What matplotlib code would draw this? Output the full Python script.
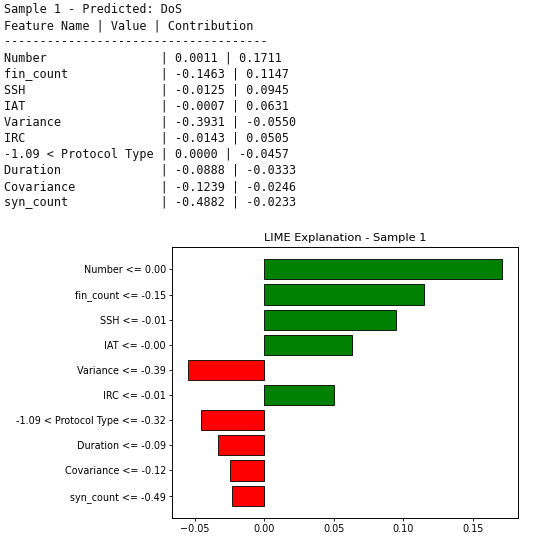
import numpy as np
import matplotlib.pyplot as plt

features = ["Number", "fin_count", "SSH", "IAT", "Variance", "IRC",
            "-1.09 < Protocol Type", "Duration", "Covariance", "syn_count"]
values = [0.0011, -0.1463, -0.0125, -0.0007, -0.3931, -0.0143,
          0.0000, -0.0888, -0.1239, -0.4882]
contributions = [0.1711, 0.1147, 0.0945, 0.0631, -0.0550, 0.0505,
                 -0.0457, -0.0333, -0.0246, -0.0233]
bar_labels = ["Number <= 0.00", "fin_count <= -0.15", "SSH <= -0.01",
              "IAT <= -0.00", "Variance <= -0.39", "IRC <= -0.01",
              "-1.09 < Protocol Type <= -0.32", "Duration <= -0.09",
              "Covariance <= -0.12", "syn_count <= -0.49"]

fig = plt.figure(figsize=(5.5, 5.38), dpi=100)

# ================ Text table =================== #
lines = ["Sample 1 - Predicted: DoS",
         "Feature Name | Value | Contribution",
         "-" * 37]
for name, v, c in zip(features, values, contributions):
    lines.append(f"{name:<22}| {v:.4f} | {c:.4f}")

y0 = 1 - 9.5 / 538
step = 16.1 / 538
for i, line in enumerate(lines):
    fig.text(4 / 550, y0 - i * step, line, family="DejaVu Sans Mono",
             fontsize=8.5, va="center", ha="left", color="#111111")

# ================ Bar chart =================== #
ax = fig.add_axes([172 / 550, 20 / 538, 346 / 550, 271 / 538])
pos = np.arange(len(bar_labels))[::-1]
colors = ["green" if c > 0 else "red" for c in contributions]
ax.barh(pos, contributions, color=colors, edgecolor="black", linewidth=0.6)
ax.set_yticks(pos)
ax.set_yticklabels(bar_labels)
ax.set_xticks([-0.05, 0.00, 0.05, 0.10, 0.15])
ax.tick_params(labelsize=6.95, length=2.3, width=0.6, pad=2)
for s in ax.spines.values():
    s.set_linewidth(0.7)
ax.set_title("LIME Explanation - Sample 1", fontsize=8.2, pad=4)

plt.savefig("out.png", dpi=100)
